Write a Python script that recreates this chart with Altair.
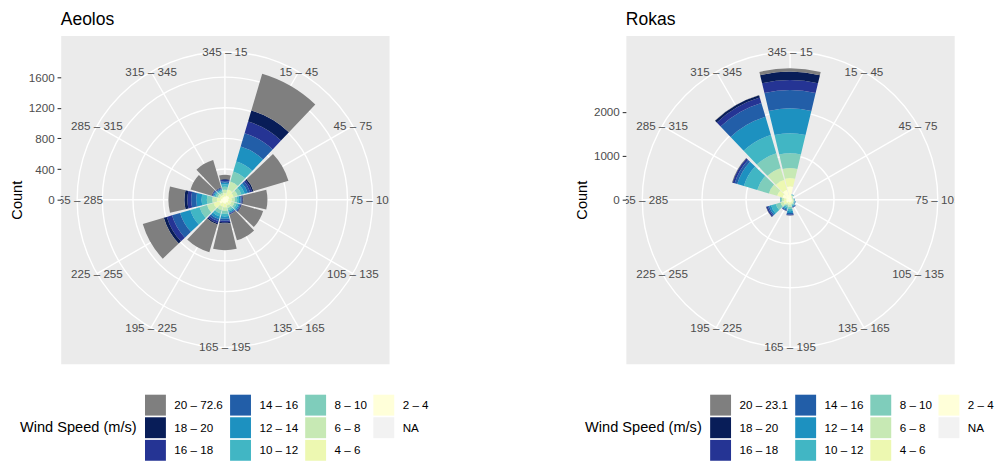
import math
import altair as alt
import pandas as pd

FONT = "Liberation Sans"

DIRECTIONS = ["345 – 15", "15 – 45", "45 – 75", "75 – 105", "105 – 135", "135 – 165",
              "165 – 195", "195 – 225", "225 – 255", "255 – 285", "285 – 315", "315 – 345"]
SPEED_BINS = ["2 – 4", "4 – 6", "6 – 8", "8 – 10", "10 – 12", "12 – 14",
              "14 – 16", "16 – 18", "18 – 20"]
PALETTE = ["#FFFFD9", "#EDF8B1", "#C7E9B4", "#7FCDBB", "#41B6C4", "#1D91C0",
           "#225EA8", "#253494", "#081D58"]
TOP_COLOR = "#7F7F7F"
NA_COLOR = "#F2F2F2"

AEOLOS_TOP_BIN = "20 – 72.6"
ROKAS_TOP_BIN = "20 – 23.1"
AEOLOS_BREAKS = [0, 400, 800, 1200, 1600]
ROKAS_BREAKS = [0, 1000, 2000]

# counts per direction (order of DIRECTIONS), one list per speed bin
AEOLOS_2_4 = [40, 57, 60, 45, 45, 40, 50, 45, 75, 50, 35, 35]
AEOLOS_4_6 = [45, 80, 60, 45, 45, 40, 50, 50, 80, 55, 35, 30]
AEOLOS_6_8 = [45, 110, 55, 40, 40, 35, 45, 50, 90, 60, 30, 28]
AEOLOS_8_10 = [40, 137, 50, 30, 30, 28, 40, 45, 100, 70, 25, 22]
AEOLOS_10_12 = [30, 137, 45, 25, 25, 22, 35, 40, 125, 70, 20, 18]
AEOLOS_12_14 = [25, 203, 40, 20, 18, 16, 30, 35, 140, 70, 15, 14]
AEOLOS_14_16 = [20, 181, 35, 15, 12, 11, 25, 30, 110, 65, 10, 10]
AEOLOS_16_18 = [15, 159, 25, 10, 8, 8, 20, 25, 70, 50, 7, 7]
AEOLOS_18_20 = [10, 150, 20, 8, 7, 5, 17, 18, 42, 39, 5, 6]
AEOLOS_20_UP = [55, 500, 475, 317, 290, 348, 347, 377, 286, 208, 286, 370]

ROKAS_2_4 = [302, 50, 35, 40, 45, 50, 60, 55, 90, 80, 180, 235]
ROKAS_4_6 = [189, 35, 20, 25, 30, 35, 50, 45, 68, 60, 127, 235]
ROKAS_6_8 = [226, 20, 12, 15, 20, 25, 50, 40, 68, 45, 195, 276]
ROKAS_8_10 = [340, 12, 7, 12, 15, 22, 50, 35, 113, 25, 276, 353]
ROKAS_10_12 = [452, 7, 4, 8, 12, 20, 50, 35, 113, 10, 315, 432]
ROKAS_12_14 = [566, 4, 2, 6, 10, 18, 45, 30, 45, 4, 158, 432]
ROKAS_14_16 = [415, 2, 0, 4, 6, 12, 35, 20, 34, 2, 61, 331]
ROKAS_16_18 = [230, 0, 0, 0, 2, 6, 15, 8, 30, 0, 45, 125]
ROKAS_18_20 = [190, 0, 0, 0, 0, 2, 5, 3, 10, 0, 11, 57]
ROKAS_20_UP = [74, 0, 0, 0, 0, 0, 2, 1, 2, 0, 7, 5]

AEOLOS_SERIES = [AEOLOS_2_4, AEOLOS_4_6, AEOLOS_6_8, AEOLOS_8_10, AEOLOS_10_12,
                 AEOLOS_12_14, AEOLOS_14_16, AEOLOS_16_18, AEOLOS_18_20, AEOLOS_20_UP]
ROKAS_SERIES = [ROKAS_2_4, ROKAS_4_6, ROKAS_6_8, ROKAS_8_10, ROKAS_10_12,
                ROKAS_12_14, ROKAS_14_16, ROKAS_16_18, ROKAS_18_20, ROKAS_20_UP]

W = 330


def long_table(series, top_bin):
    labels = SPEED_BINS + [top_bin]
    rows = []
    for k, (lab, vals) in enumerate(zip(labels, series)):
        for i, v in enumerate(vals):
            rows.append({"dir": DIRECTIONS[i], "di": i, "speed": lab, "order": k, "count": v})
    return pd.DataFrame(rows)


def panel(title, series, top_bin, breaks):
    df = long_table(series, top_bin)
    dm = float(df.groupby("di")["count"].sum().max())
    half = 1.25 * dm
    outer = 1.125 * dm

    legend_domain = [top_bin, "14 – 16", "8 – 10", "2 – 4",
                     "18 – 20", "12 – 14", "6 – 8", "NA",
                     "16 – 18", "10 – 12", "4 – 6"]
    cmap = dict(zip(SPEED_BINS, PALETTE))
    cmap[top_bin] = TOP_COLOR
    cmap["NA"] = NA_COLOR
    legend_range = [cmap[k] for k in legend_domain]

    theta_scale = alt.Scale(domain=[0, 360], range=[0, 2 * math.pi])
    r_scale = alt.Scale(type="linear", domain=[0, dm], range=[0, 0.4 * W], zero=True, nice=False)
    xy_scale = alt.Scale(domain=[-half, half], nice=False, zero=False)

    circ_df = pd.DataFrame({"r": [b for b in breaks if b > 0] + [outer]})
    circles = alt.Chart(circ_df).transform_calculate(
        t0="0", t1="360"
    ).mark_arc(filled=False, stroke="white", strokeWidth=1.4).encode(
        theta=alt.Theta("t0:Q", scale=theta_scale, stack=None),
        theta2="t1:Q",
        radius=alt.Radius("r:Q", scale=r_scale, stack=None),
    )

    spoke_df = pd.DataFrame({"dir": DIRECTIONS, "di": list(range(len(DIRECTIONS)))})
    spoke_base = alt.Chart(spoke_df).transform_calculate(
        zero="0",
        ex=f"{outer} * sin(datum.di * PI / 6)",
        ey=f"{outer} * cos(datum.di * PI / 6)",
    )
    spokes = spoke_base.mark_rule(color="white", strokeWidth=1.4).encode(
        x=alt.X("zero:Q", scale=xy_scale, axis=None),
        y=alt.Y("zero:Q", scale=xy_scale,
                axis=alt.Axis(values=breaks, format="d", title="Count", grid=False, domain=False,
                              labelFontSize=11.7, labelColor="#4D4D4D", labelFont=FONT,
                              tickColor="#333333", tickSize=3.7, tickWidth=1.07,
                              labelPadding=2.9, titleFontSize=14.67, titleColor="black",
                              titleFont=FONT, titleFontWeight="normal", titlePadding=4)),
        x2="ex:Q",
        y2="ey:Q",
    )
    labels = spoke_base.mark_text(clip=True, fontSize=11.7, color="#4D4D4D", font=FONT,
                                  align="center", baseline="middle").encode(
        x=alt.X("ex:Q", scale=xy_scale, axis=None),
        y=alt.Y("ey:Q", scale=xy_scale),
        text="dir:N",
    )

    bars = alt.Chart(df).transform_stack(
        stack="count", groupby=["di"], as_=["r0", "r1"],
        sort=[alt.SortField("order", order="ascending")],
    ).transform_calculate(
        a0="datum.di * 30 - 13.5", a1="datum.di * 30 + 13.5"
    ).mark_arc(strokeWidth=0).encode(
        theta=alt.Theta("a0:Q", scale=theta_scale, stack=None),
        theta2="a1:Q",
        radius=alt.Radius("r1:Q", scale=r_scale, stack=None),
        radius2="r0:Q",
        color=alt.Color("speed:N", scale=alt.Scale(domain=legend_domain, range=legend_range),
                        legend=alt.Legend(
                            title="Wind Speed (m/s)", orient="none", legendX=-41, legendY=361,
                            direction="horizontal", columns=4, titleOrient="left",
                            titleAnchor="middle", titleBaseline="middle",
                            titleFontSize=14.67, titleFontWeight="normal", titleFont=FONT,
                            titleColor="black", titlePadding=7.7,
                            labelFontSize=11.7, labelFont=FONT, labelColor="black",
                            labelOffset=8.5, symbolType="square", symbolSize=441,
                            symbolStrokeWidth=0, symbolOpacity=1,
                            columnPadding=6.5, rowPadding=1.7)),
    )

    return alt.layer(circles, spokes, bars, labels).properties(
        width=W, height=W,
        title=alt.TitleParams(text=title, anchor="start", frame="group", fontSize=17.6,
                              fontWeight="normal", font=FONT, color="black", offset=6.5),
    )


left = panel("Aeolos", AEOLOS_SERIES, AEOLOS_TOP_BIN, AEOLOS_BREAKS)
right = panel("Rokas", ROKAS_SERIES, ROKAS_TOP_BIN, ROKAS_BREAKS)

chart = alt.hconcat(left, right, spacing=238, bounds="flush").resolve_scale(
    color="independent", x="independent", y="independent",
    radius="independent", theta="independent",
).properties(padding={"left": 0, "top": 1.5, "right": 0, "bottom": 0}).configure_view(
    fill="#EBEBEB", stroke="transparent"
)

chart.save("out.html", embed_options={"renderer": "svg", "actions": False})
